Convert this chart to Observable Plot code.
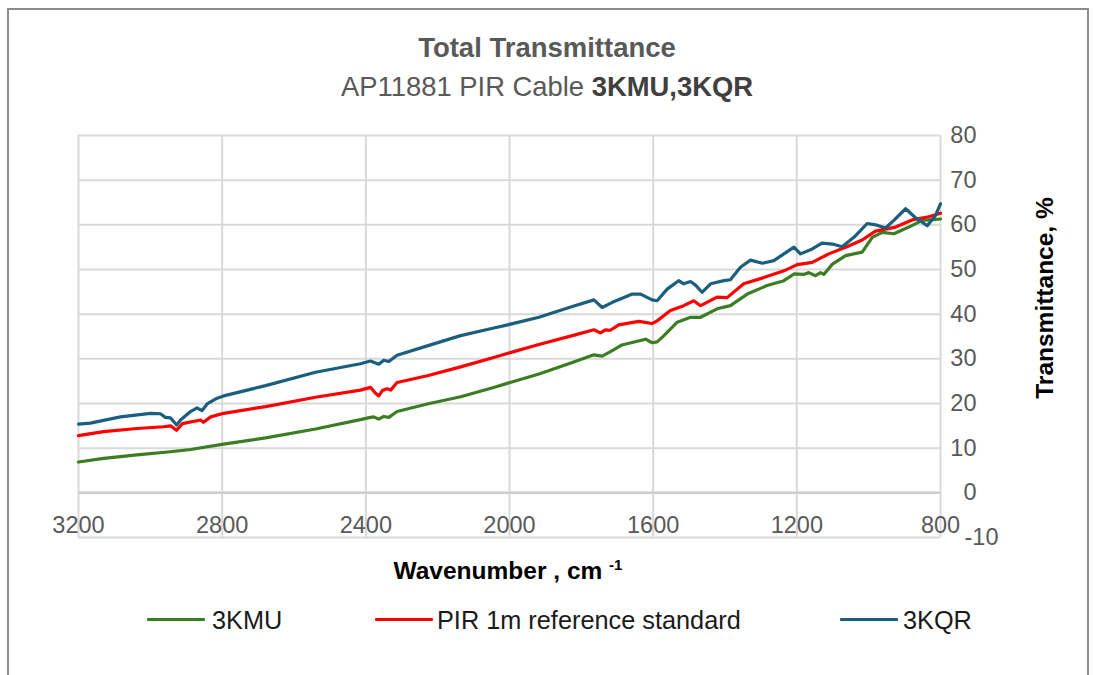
<!DOCTYPE html>
<html>
<head>
<meta charset="utf-8">
<script src="https://cdn.jsdelivr.net/npm/d3@7"></script>
<script src="https://cdn.jsdelivr.net/npm/@observablehq/plot@0.6"></script>
<style>
  body { margin:0; width:1094px; height:675px; position:relative; overflow:hidden; background:#fff;
         font-family:"Liberation Sans", Arial, sans-serif; }
  .abs { position:absolute; }
  #frame { left:7px; top:8px; width:1082px; height:700px; border:2px solid #8c8c8c; box-sizing:border-box; }
  #title { left:0; width:1094px; top:33px; text-align:center; font-weight:bold; font-size:27.5px; line-height:30px; color:#595959; }
  #subtitle { left:0; width:1094px; top:72px; text-align:center; font-size:27.4px; line-height:30px; color:#595959; }
  #subtitle b { color:#404040; }
  #chart { left:0; top:120px; }
  #xtitle { left:0; width:1016px; top:551px; text-align:center; font-weight:bold; font-size:24.5px; line-height:28px; color:#000; }
  #xtitle sup { font-size:15px; vertical-align:9px; }
  #ytitle { left:895px; top:284px; width:300px; height:28px; text-align:center; font-weight:bold; font-size:24.5px; line-height:28px; color:#000; transform:rotate(-90deg); transform-origin:center; }
  .leg { top:606px; font-size:25.3px; line-height:28px; color:#1a1a1a; white-space:nowrap; }
  .sw { position:absolute; height:3px; top:618px; border-radius:1px; }
</style>
</head>
<body>
<div id="frame" class="abs"></div>
<div id="title" class="abs">Total Transmittance</div>
<div id="subtitle" class="abs">AP11881 PIR Cable <b>3KMU,3KQR</b></div>
<div id="chart" class="abs"></div>
<div id="xtitle" class="abs">Wavenumber , cm <sup>-1</sup></div>
<div id="ytitle" class="abs">Transmittance, %</div>
<div id="legend"></div>
<script>
// ---- Data ----
const seriesNames = ["3KMU", "PIR 1m reference standard", "3KQR"];
const seriesColors = ["#3b7d23", "#ff0000", "#1a5e80"];

const kmuWn = [3200,3130,3037,2944,2888,2796,2679,2540,2415,2387,2378,2364,2350,2336,2313,2229,2136,2044,2011,1918,1825,1765,1742,1715,1687,1621,1603,1589,1570,1533,1496,1468,1422,1385,1338,1283,1236,1208,1181,1167,1148,1134,1125,1101,1064,1018,990,962,930,888,851,800];
const kmuT  = [6.9,7.7,8.5,9.2,9.7,10.9,12.3,14.3,16.4,16.9,17.0,16.5,17.1,16.9,18.2,19.9,21.5,23.6,24.4,26.6,29.2,30.9,30.6,31.8,33.1,34.4,33.6,33.8,35.2,38.2,39.3,39.3,41.2,41.9,44.5,46.4,47.5,49.0,48.9,49.3,48.6,49.3,48.9,51.2,53.1,53.9,57.2,58.3,58.0,59.5,61.0,61.3];

const pirWn = [3200,3130,3037,2963,2944,2927,2911,2860,2852,2832,2796,2679,2540,2415,2387,2373,2364,2354,2341,2331,2313,2229,2136,2044,2011,1918,1825,1765,1747,1733,1719,1696,1640,1603,1589,1552,1515,1487,1468,1422,1394,1348,1292,1236,1199,1157,1111,1064,1018,981,925,879,833,800];
const pirT  = [12.8,13.7,14.4,14.8,15.0,14.0,15.5,16.3,15.8,17.0,17.8,19.3,21.4,23.0,23.6,22.3,21.7,22.9,23.3,23.0,24.7,26.2,28.2,30.3,31.1,33.2,35.2,36.5,35.8,36.5,36.4,37.6,38.4,37.9,38.5,40.8,41.9,43.0,41.9,43.8,43.7,46.8,48.2,49.7,51.1,51.6,53.5,55.0,56.6,58.6,59.5,61.1,61.8,62.6];

const kqrWn = [3200,3167,3083,3000,2972,2958,2944,2927,2916,2888,2870,2856,2842,2814,2796,2679,2540,2415,2387,2364,2350,2336,2313,2229,2136,2044,2011,1918,1825,1765,1742,1715,1658,1635,1603,1589,1561,1529,1515,1496,1482,1464,1440,1403,1385,1357,1329,1296,1264,1236,1208,1190,1157,1130,1101,1074,1041,1004,981,953,930,897,871,837,814,800];
const kqrT  = [15.4,15.6,17.0,17.8,17.7,16.9,16.8,15.2,16.3,18.2,19.0,18.4,19.9,21.2,21.7,24.0,27.0,28.9,29.5,28.8,29.7,29.4,30.8,32.9,35.2,36.9,37.5,39.3,41.7,43.2,41.5,42.6,44.5,44.5,43.2,43.0,45.6,47.5,46.8,47.3,46.5,44.9,46.8,47.5,47.7,50.5,52.1,51.4,52.0,53.5,55.0,53.5,54.6,55.9,55.7,55.1,57.2,60.3,60.0,59.3,61.0,63.6,61.7,59.8,62.1,64.7];

const xTicks = [3200, 2800, 2400, 2000, 1600, 1200, 800];
const yTicks = [-10, 0, 10, 20, 30, 40, 50, 60, 70, 80];
const xAxisAt = 0;

// ---- Build table ----
const rows = [];
[[kmuWn, kmuT], [pirWn, pirT], [kqrWn, kqrT]].forEach(([w, t], i) => {
  w.forEach((x, j) => rows.push({series: seriesNames[i], wn: x, t: t[j]}));
});

const tickStyle = {fill: "#595959", fontSize: 23.5};

const chart = Plot.plot({
  width: 1094,
  height: 465,
  marginLeft: 78,
  marginRight: 154,
  marginTop: 15,
  marginBottom: 48,
  style: {fontFamily: '"Liberation Sans", Arial, sans-serif', background: "transparent"},
  x: {domain: [3200, 800], axis: null},
  y: {domain: [-10, 80], axis: null},
  color: {domain: seriesNames, range: seriesColors},
  marks: [
    Plot.ruleX(xTicks, {x: d => d, stroke: "#d9d9d9", strokeWidth: 2, strokeOpacity: 1}),
    Plot.ruleY(yTicks, {y: d => d, stroke: "#d9d9d9", strokeWidth: 2, strokeOpacity: 1}),
    Plot.ruleY([xAxisAt], {y: d => d, stroke: "#cfcfcf", strokeWidth: 2.5, strokeOpacity: 1}),
    Plot.line(rows, {x: "wn", y: "t", z: "series", stroke: "series", strokeWidth: 3.2, strokeLinejoin: "round", strokeLinecap: "round"}),
    Plot.text(xTicks, {x: d => d, y: () => xAxisAt, dy: 33, text: d => String(d), ...tickStyle}),
    Plot.text(yTicks.filter(d => d >= xAxisAt), {y: d => d, frameAnchor: "right", dx: 36, textAnchor: "end", text: d => String(d), ...tickStyle}),
    Plot.text(yTicks.filter(d => d < xAxisAt), {y: d => d, frameAnchor: "right", dx: 58, textAnchor: "end", text: d => String(d), ...tickStyle})
  ]
});
document.getElementById("chart").appendChild(chart);

// ---- Legend ----
const legendPos = [
  {sw: 147, tx: 212},
  {sw: 375, tx: 437},
  {sw: 840, tx: 903}
];
const leg = document.getElementById("legend");
seriesNames.forEach((name, i) => {
  const s = document.createElement("div");
  s.className = "sw";
  s.style.left = legendPos[i].sw + "px";
  s.style.width = "58px";
  s.style.background = seriesColors[i];
  leg.appendChild(s);
  const t = document.createElement("div");
  t.className = "abs leg";
  t.style.left = legendPos[i].tx + "px";
  t.textContent = name;
  leg.appendChild(t);
});
</script>
</body>
</html>
